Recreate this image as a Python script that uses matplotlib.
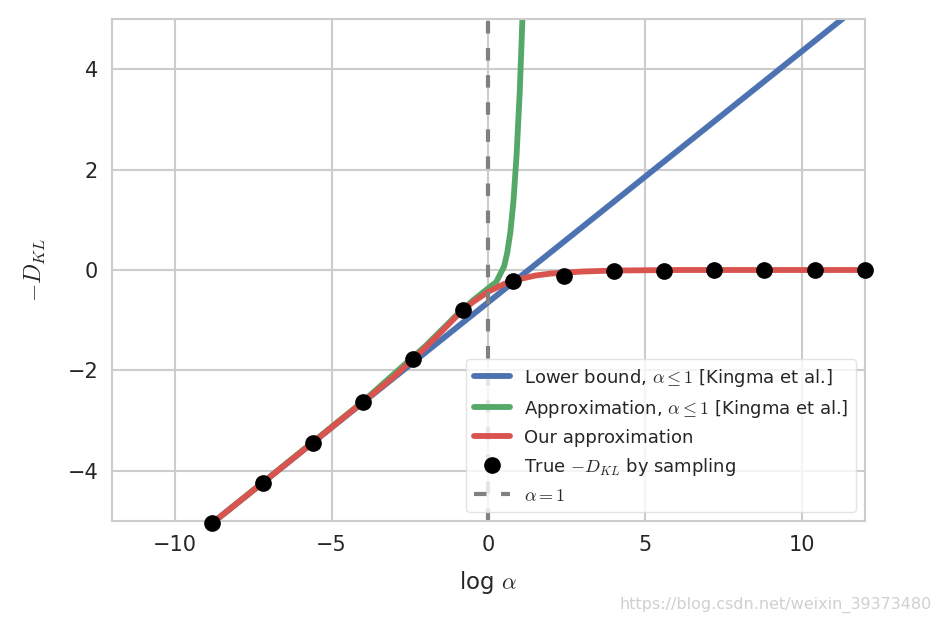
# -D_KL approximations vs log alpha
import matplotlib.pyplot as plt
import seaborn as sns
import numpy as np

sns.set_style("whitegrid")
plt.rcParams['mathtext.fontset'] = 'cm'
plt.rcParams['font.family'] = ['DejaVu Sans']

# lower bound (straight line), read at the ends
lb_x = [-12, 12]
lb_y = [-6.64, 5.36]

# Kingma approximation
ap_x = [-12, -8, -4, -2, -1, -0.5, 0, 0.25, 0.5, 0.6, 0.7, 0.8, 0.9, 1.0, 1.05, 1.12]
ap_y = [-6.64, -4.64, -2.62, -1.51, -0.89, -0.61, -0.36, -0.24, 0.07, 0.34, 0.75,
        1.37, 2.30, 3.55, 4.4, 5.6]

# our approximation
our_x = [-12, -8, -6, -4, -3, -2, -1.5, -1, -0.5, 0, 0.5, 1, 1.5, 2, 3, 4, 6, 8, 12]
our_y = [-6.64, -4.64, -3.64, -2.63, -2.12, -1.54, -1.23, -0.91, -0.64, -0.43,
         -0.28, -0.18, -0.11, -0.07, -0.03, -0.01, 0.0, 0.0, 0.0]

# true -D_KL by sampling
true_x = [-8.8, -7.2, -5.6, -4.0, -2.4, -0.8, 0.8, 2.4, 4.0, 5.6, 7.2, 8.8, 10.4, 12.0]
true_y = [-5.04, -4.24, -3.44, -2.62, -1.78, -0.80, -0.22, -0.12, -0.02, -0.01,
          0.0, 0.0, 0.0, 0.0]

fig = plt.figure(figsize=(9.41, 6.23), dpi=100)
ax = fig.add_axes([0.119, 0.1637, 0.8, 0.8058])

ax.plot(lb_x, lb_y, color='#4C72B0', lw=4.2,
        label=r'Lower bound, $\alpha \leq 1$ [Kingma et al.]')
ax.plot(ap_x, ap_y, color='#55A868', lw=4.2,
        label=r'Approximation, $\alpha \leq 1$ [Kingma et al.]')
ax.plot(our_x, our_y, color='#D9544F', lw=4.2, label='Our approximation')
ax.plot(true_x, true_y, 'o', color='black', ms=11, clip_on=False,
        label=r'True $-D_{KL}$ by sampling', zorder=5)
ax.axvline(0, color='gray', ls='--', lw=3, dashes=(3, 3.5), label=r'$\alpha = 1$')

ax.set_xlim(-12, 12)
ax.set_ylim(-5, 5)
ax.set_xticks([-10, -5, 0, 5, 10])
ax.set_yticks([-4, -2, 0, 2, 4])
ax.tick_params(labelsize=15, colors='#262626', length=0, pad=10)
for lab in ax.get_xticklabels() + ax.get_yticklabels():
    lab.set_family(['Liberation Sans Narrow', 'DejaVu Sans'])
ax.grid(color='#cccccc', lw=1.5)
for s in ax.spines.values():
    s.set_color('#cccccc')
    s.set_linewidth(1.5)

ax.set_xlabel(r'log $\alpha$', fontsize=16.5, color='#262626', labelpad=10,
              family=['Liberation Sans Narrow', 'DejaVu Sans'])
ax.set_ylabel(r'$-D_{KL}$', fontsize=17, color='#262626', labelpad=14)

leg = ax.legend(loc='lower right', fontsize=13, frameon=True, borderaxespad=0.5)
leg.get_frame().set_edgecolor('#dddddd')
for t in leg.get_texts():
    t.set_color('#262626')

fig.text(0.99, 0.022, 'https://blog.csdn.net/weixin_39373480', ha='right',
         fontsize=11.5, color='#d0d0d0',
         family=['Liberation Sans Narrow', 'DejaVu Sans'])

fig.savefig('out.png', dpi=100)
